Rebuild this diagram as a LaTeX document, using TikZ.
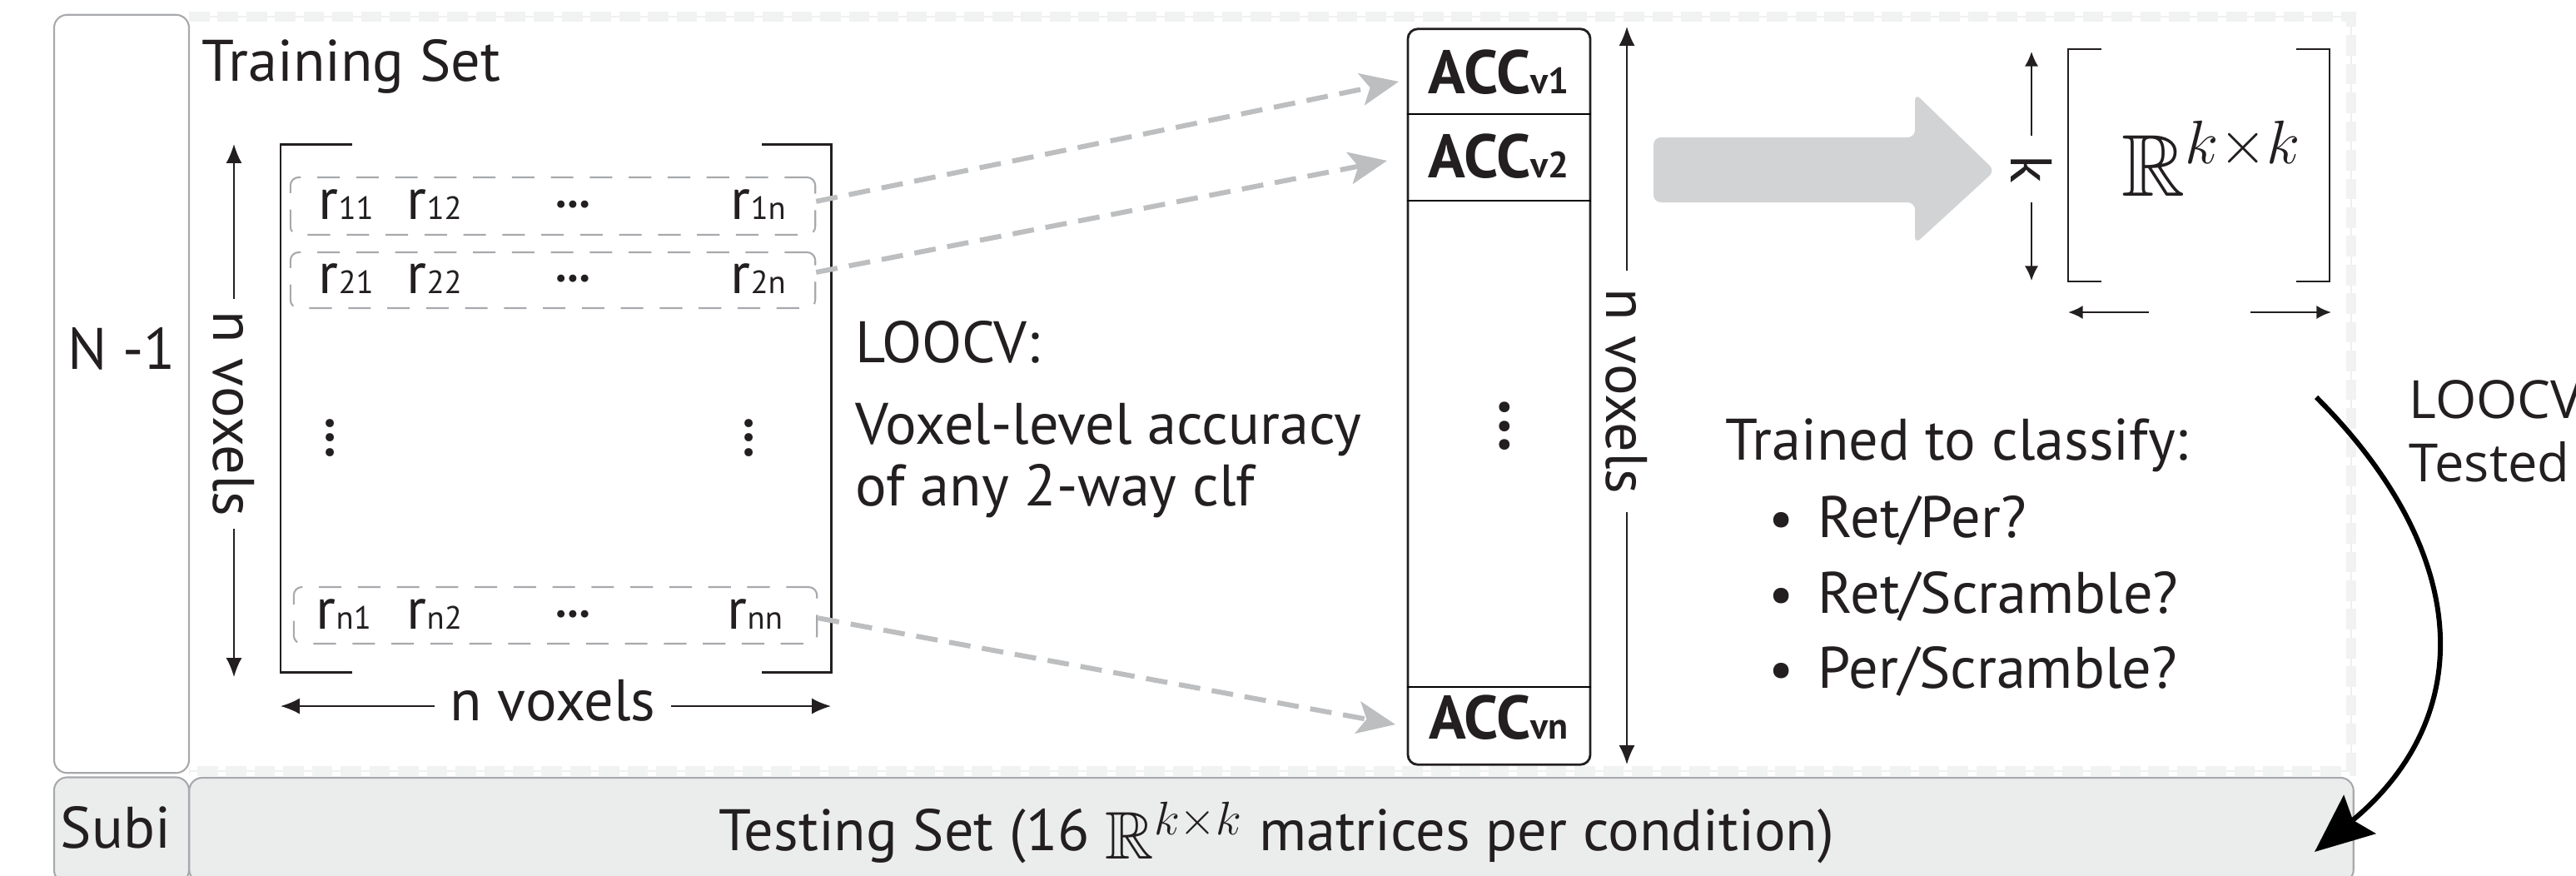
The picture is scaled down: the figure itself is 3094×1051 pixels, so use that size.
\documentclass[tikz,border=0pt]{standalone}
\usepackage{fix-cm}
\usepackage{amssymb}
\usepackage{fontspec}
\setmainfont{PT Sans}
\newfontfamily\opensans{Open Sans}
\usetikzlibrary{arrows.meta}
\definecolor{txt}{HTML}{231F20}
\definecolor{boxgray}{HTML}{A7A9AC}
\definecolor{fillgray}{HTML}{EBECEC}
\definecolor{dashgray}{HTML}{F1F2F2}
\definecolor{arrgray}{HTML}{BCBEC0}
\definecolor{biggray}{HTML}{D1D3D4}
\newcommand{\rsub}[2]{#1{\fontsize{11}{11}\selectfont #2}}
\newcommand{\accl}[1]{{\fontsize{21}{24}\selectfont\bfseries ACC{\fontsize{12.5}{12.5}\selectfont #1}}}
\newcommand{\bdots}[2]{{\fontsize{#1}{#1}\selectfont\textbullet\kern#2\textbullet\kern#2\textbullet}}
\begin{document}
\begin{tikzpicture}[x=0.01cm, y=-0.01cm, font=\fontsize{20}{24}\selectfont, text=txt,
  every node/.style={inner sep=0pt},
  sidebox/.style={draw=boxgray, line width=0.6pt, rounded corners=4.5pt},
  rowbox/.style={draw=boxgray, line width=0.6pt, dash pattern=on 7.7pt off 5.6pt, rounded corners=2.8pt},
  outerdash/.style={draw=dashgray, line width=3.4pt, dash pattern=on 7pt off 2.8pt},
  grayarr/.style={draw=arrgray, line width=1.7pt, dash pattern=on 7.4pt off 4pt, -{Stealth[length=13pt,width=11pt,inset=3pt]}},
  dimarr/.style={draw=txt, line width=0.55pt, -{Latex[length=6.5pt,width=5.4pt]}},
  smallarr/.style={draw=txt, line width=0.55pt, -{Latex[length=5pt,width=4.6pt]}},
  brk/.style={draw=txt, line width=0.85pt},
  thinbrk/.style={draw=txt, line width=0.45pt}
]
\useasboundingbox (0,0) rectangle (3094,1051);
\clip (0,0) rectangle (3094,1051);

% training region border
\draw[color=gray!12, line width=0.35pt] (227,20) -- (2824,20) -- (2824,926) -- (227,926);
\draw[outerdash] (227,20) -- (2824,20) -- (2824,926) -- (227,926);

% side boxes and testing set
\node[sidebox, fill=white, minimum width=1.62cm, minimum height=9.10cm] (n1box) at (146,473) {};
\node[anchor=base] (n1) at (146,443) {N -1};
\node[sidebox, fill=fillgray, minimum width=1.62cm, minimum height=1.27cm] (subbox) at (146,997) {};
\node[anchor=base] (sub) at (139,1018) {Subi};
\node[sidebox, fill=fillgray, minimum width=25.98cm, minimum height=1.26cm] (testbox) at (1527,997) {};
\node[anchor=base west] (test) at (863,1021) {Testing Set (16 \raisebox{-3.1pt}{\fontsize{23}{23}\selectfont$\mathbb{R}^{k\times k}$} matrices per condition)};

\node[anchor=base west] (train) at (242,97) {Training Set};

% matrix brackets
\draw[brk] (423,173) -- (337,173) -- (337,807) -- (423,807);
\draw[brk] (915,173) -- (998,173) -- (998,807) -- (915,807);

% rows
\node[rowbox, minimum width=6.30cm, minimum height=0.69cm] (row1) at (664,247.5) {};
\node[rowbox, minimum width=6.30cm, minimum height=0.67cm] (row2) at (664,336.5) {};
\node[rowbox, minimum width=6.28cm, minimum height=0.68cm] (rown) at (667,739) {};

\node[anchor=base west] (r11) at (382,263) {\rsub{r}{11}};
\node[anchor=base west] (r12) at (488,263) {\rsub{r}{12}};
\node (r1d) at (688,248) {\bdots{9}{0pt}};
\node[anchor=base west] (r1n) at (877,263) {\rsub{r}{1n}};

\node[anchor=base west] (r21) at (382,352) {\rsub{r}{21}};
\node[anchor=base west] (r22) at (488,352) {\rsub{r}{22}};
\node (r2d) at (688,337) {\bdots{9}{0pt}};
\node[anchor=base west] (r2n) at (877,352) {\rsub{r}{2n}};

\node[anchor=base west] (rn1) at (379,755) {\rsub{r}{n1}};
\node[anchor=base west] (rn2) at (488,755) {\rsub{r}{n2}};
\node (rnd) at (688,740) {\bdots{9}{0pt}};
\node[anchor=base west] (rnn) at (873,755) {\rsub{r}{nn}};

\node[rotate=90] (vd1) at (400,526) {\bdots{10}{0.5pt}};
\node[rotate=90] (vd2) at (903,526) {\bdots{10}{0.5pt}};

% dimension arrows of the matrix
\coordinate (lvT) at (281,173);
\coordinate (lvB) at (281,813);
\node[rotate=-90, inner xsep=4pt] (lv) at (281,497) {n voxels};
\draw[dimarr] (lv) -- (lvT);
\draw[dimarr] (lv) -- (lvB);

\coordinate (bvL) at (337,848);
\coordinate (bvR) at (998,848);
\node[anchor=base, inner xsep=5pt] (bv) at (664,865) {n voxels};
\draw[dimarr] (bv.west |- bvL) -- (bvL);
\draw[dimarr] (bv.east |- bvR) -- (bvR);

% LOOCV text
\node[anchor=base west] (loo) at (1027,435) {LOOCV:};
\node[anchor=base west] (vla) at (1027,533) {Voxel-level accuracy};
\node[anchor=base west] (oan) at (1027,607) {of any 2-way clf};

% ACC column
\node[draw=txt, line width=0.8pt, rounded corners=3.4pt, minimum width=2.19cm, minimum height=8.83cm] (acccol) at (1800.5,476.5) {};
\coordinate (d1) at (0,137);
\coordinate (d2) at (0,241);
\coordinate (d3) at (0,825);
\draw[line width=0.8pt] (acccol.west |- d1) -- (acccol.east |- d1);
\draw[line width=0.8pt] (acccol.west |- d2) -- (acccol.east |- d2);
\draw[line width=0.8pt] (acccol.west |- d3) -- (acccol.east |- d3);
\node[anchor=base] (acc1) at (1800,112) {\accl{v1}};
\node[anchor=base] (acc2) at (1800,213) {\accl{v2}};
\node[anchor=base] (accn) at (1800,887) {\accl{vn}};
\node[rotate=90] (accd) at (1811,512) {\bdots{13}{0.5pt}};

% gray dashed arrows
\coordinate (t1) at (1680,98);
\coordinate (t2) at (1666,193);
\coordinate (tn) at (1676,870);
\draw[grayarr] ([yshift=1.6pt]row1.east) -- (t1);
\draw[grayarr] ([yshift=2.7pt]row2.east) -- (t2);
\draw[grayarr] ([yshift=-0.9pt]rown.east) -- (tn);

% right n voxels arrow
\coordinate (rvT) at (1954,32);
\coordinate (rvB) at (1954,918);
\node[rotate=-90, inner xsep=6pt] (rv) at (1954,470) {n voxels};
\draw[dimarr] (rv) -- (rvT);
\draw[dimarr] (rv) -- (rvB);

% big gray arrow
\fill[biggray, rounded corners=2.5pt] (1986,165) -- (2300,165) -- (2300,112) -- (2396,205) -- (2300,293) -- (2300,243) -- (1986,243) -- cycle;

% k x k matrix
\coordinate (kT) at (2440,62);
\coordinate (kB) at (2440,337);
\node[rotate=-90, inner xsep=6.5pt] (kv) at (2440,203) {k};
\draw[smallarr] (kv) -- (kT);
\draw[smallarr] (kv) -- (kB);
\draw[thinbrk] (2524,59) -- (2484,59) -- (2484,338) -- (2524,338);
\draw[thinbrk] (2758,59) -- (2798,59) -- (2798,338) -- (2758,338);
\node[anchor=base west] (rkk) at (2548,235) {\fontsize{30}{30}\selectfont$\mathbb{R}^{k\times k}$};
\coordinate (kl1) at (2581,375);
\coordinate (kl2) at (2484,375);
\coordinate (kr1) at (2703,375);
\coordinate (kr2) at (2800,375);
\draw[smallarr, line width=0.75pt] (kl1) -- (kl2);
\draw[smallarr, line width=0.75pt] (kr1) -- (kr2);

% trained to classify
\node[anchor=base west] (ttc) at (2072,552) {Trained to classify:};
\node[anchor=base] (b1) at (2140,645) {\fontsize{19}{19}\selectfont\textbullet};
\node[anchor=base west] (l1) at (2183,645) {Ret/Per?};
\node[anchor=base] (b2) at (2140,736) {\fontsize{19}{19}\selectfont\textbullet};
\node[anchor=base west] (l2) at (2183,736) {Ret/Scramble?};
\node[anchor=base] (b3) at (2140,826) {\fontsize{19}{19}\selectfont\textbullet};
\node[anchor=base west] (l3) at (2183,826) {Per/Scramble?};

% curved arrow to testing set
\coordinate (cS) at (2782,477);
\coordinate (cE) at (2780,1023);
\draw[line width=1.7pt, -{Stealth[length=20pt,width=17pt,inset=3pt]}] (cS) .. controls (2973,668) and (2973,863) .. (cE);

\node[anchor=base west, font=\opensans\fontsize{18}{20}\selectfont] (loo2) at (2893,502) {LOOCV};
\node[anchor=base west, font=\opensans\fontsize{18}{20}\selectfont] (tst2) at (2893,578) {Tested};
\end{tikzpicture}
\end{document}
